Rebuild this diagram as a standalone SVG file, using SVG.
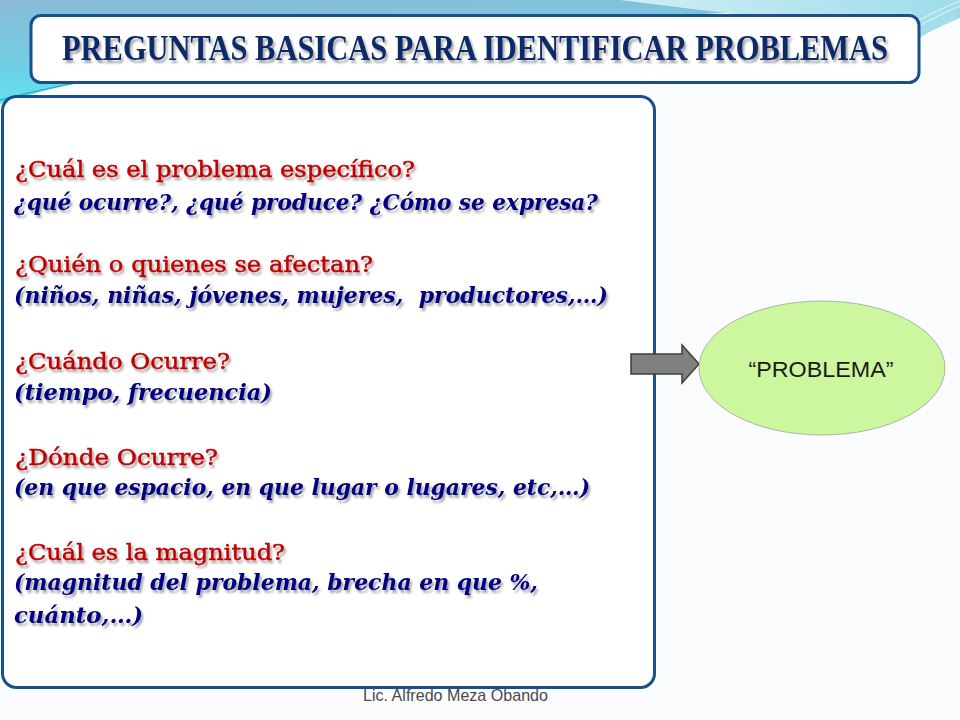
<svg xmlns="http://www.w3.org/2000/svg" width="960" height="720" viewBox="0 0 960 720">
<defs>
<linearGradient id="bgL" x1="0" y1="0" x2="0.3" y2="1">
<stop offset="0" stop-color="#8bb9d6"/>
<stop offset="0.6" stop-color="#6fd0e6"/>
<stop offset="1" stop-color="#5ee6f2"/>
</linearGradient>
<linearGradient id="bgR" x1="0" y1="0" x2="1" y2="0">
<stop offset="0" stop-color="#cfeef5"/>
<stop offset="1" stop-color="#9fdcea"/>
</linearGradient>
<filter id="sh" x="-5%" y="-20%" width="110%" height="150%">
<feGaussianBlur in="SourceAlpha" stdDeviation="1.2"/>
<feOffset dx="2" dy="2.5" result="o"/>
<feComponentTransfer><feFuncA type="linear" slope="0.35"/></feComponentTransfer>
<feMerge><feMergeNode/><feMergeNode in="SourceGraphic"/></feMerge>
</filter>
</defs>
<style>
.box{fill:#ffffff;stroke:#1a4f8b;stroke-width:3}
.title{font-family:"Liberation Serif",serif;font-weight:bold;font-size:36px;fill:#0d2a68}
.q{font-family:"DejaVu Serif","Liberation Serif",serif;font-size:22.5px;fill:#c00000;stroke:#c00000;stroke-width:0.45}
.a{font-family:"DejaVu Serif","Liberation Serif",serif;font-size:23px;font-weight:bold;font-style:italic;fill:#000080}
.lbl{font-family:"Liberation Sans",Arial,sans-serif;font-size:22px;fill:#1a1a1a}
.foot{font-family:"Liberation Sans",Arial,sans-serif;font-size:17px;fill:#4a4a4a}
</style>
<rect width="960" height="720" fill="#fbfcfd"/>
<g id="background">
<path d="M0,0 H960 V4 C820,8 560,18 330,40 C180,56 80,78 0,104 Z" fill="url(#bgL)"/>
<path d="M620,0 H960 V18 C930,30 905,45 890,60 C880,35 760,16 700,10 Z" fill="url(#bgR)"/>
<path d="M0,100 C30,92 60,86 90,80" stroke="#2fb7b8" stroke-width="1.5" fill="none"/>
<path d="M912,24 C930,14 945,7 960,1 M912,30 C930,20 945,12 960,6" stroke="#e9f7fb" stroke-width="1" fill="none"/>
</g>
<g id="title">
<rect class="box" x="31" y="15.5" width="888" height="67" rx="10"/>
<g filter="url(#sh)">
<text class="title" transform="translate(475,60) scale(0.846,1)" x="0" y="0" text-anchor="middle">PREGUNTAS BASICAS PARA IDENTIFICAR PROBLEMAS</text>
</g>
</g>
<g id="questions">
<rect class="box" x="2.5" y="96.5" width="652" height="591" rx="14"/>
<g filter="url(#sh)">
<text class="q" x="15" y="177" textLength="400" lengthAdjust="spacingAndGlyphs">¿Cuál es el problema específico?</text>
<text class="a" x="14" y="210" textLength="584" lengthAdjust="spacingAndGlyphs">¿qué ocurre?, ¿qué produce? ¿Cómo se expresa?</text>
<text class="q" x="15" y="272" textLength="358" lengthAdjust="spacingAndGlyphs">¿Quién o quienes se afectan?</text>
<text class="a" x="14" y="303" textLength="594" lengthAdjust="spacingAndGlyphs" xml:space="preserve">(niños, niñas, jóvenes, mujeres,  productores,…)</text>
<text class="q" x="15" y="369" textLength="215" lengthAdjust="spacingAndGlyphs">¿Cuándo Ocurre?</text>
<text class="a" x="14" y="400" textLength="258" lengthAdjust="spacingAndGlyphs">(tiempo, frecuencia)</text>
<text class="q" x="15" y="465" textLength="203" lengthAdjust="spacingAndGlyphs">¿Dónde Ocurre?</text>
<text class="a" x="14" y="495" textLength="576" lengthAdjust="spacingAndGlyphs">(en que espacio, en que lugar o lugares, etc,…)</text>
<text class="q" x="15" y="560" textLength="270" lengthAdjust="spacingAndGlyphs">¿Cuál es la magnitud?</text>
<text class="a" x="14" y="590" textLength="524" lengthAdjust="spacingAndGlyphs">(magnitud del problema, brecha en que %,</text>
<text class="a" x="14" y="623" textLength="129" lengthAdjust="spacingAndGlyphs">cuánto,…)</text>
</g>
</g>
<g id="connectors">
<path d="M631,354 H682 V345 L699,364 L682,383 V374 H631 Z" fill="#808080" stroke="#3f3f3f" stroke-width="1.5" stroke-linejoin="miter"/>
</g>
<g id="problema">
<ellipse cx="822" cy="368" rx="123" ry="67" fill="#ccf79e" stroke="#a9b8a0" stroke-width="1"/>
<text class="lbl" x="821" y="377" text-anchor="middle" textLength="145" lengthAdjust="spacingAndGlyphs">“PROBLEMA”</text>
</g>
<text class="foot" x="363" y="701" textLength="185" lengthAdjust="spacingAndGlyphs">Lic. Alfredo Meza Obando</text>
</svg>
